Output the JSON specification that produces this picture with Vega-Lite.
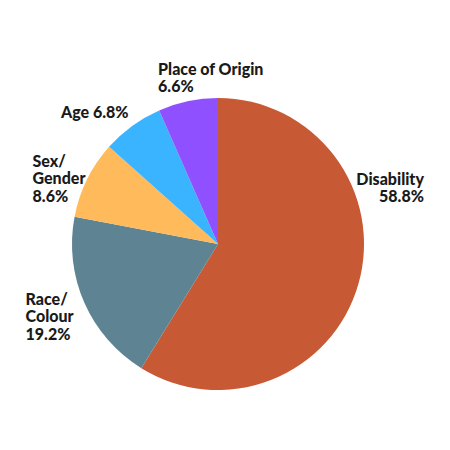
{
  "$schema": "https://vega.github.io/schema/vega-lite/v6.json",
  "width": 292,
  "height": 292,
  "autosize": "none",
  "padding": {"left": 72, "top": 98, "right": 86, "bottom": 60},
  "background": "white",
  "config": {"view": {"stroke": null}},
  "data": {
    "values": [
      {"category": "Disability", "value": 58.8, "label": "Disability\n58.8%"},
      {"category": "Race/Colour", "value": 19.2, "label": "Race/\nColour\n19.2%"},
      {"category": "Sex/Gender", "value": 8.6, "label": "Sex/\nGender\n8.6%"},
      {"category": "Age", "value": 6.8, "label": "Age 6.8%"},
      {"category": "Place of Origin", "value": 6.6, "label": "Place of Origin\n6.6%"}
    ]
  },
  "encoding": {
    "theta": {"field": "value", "type": "quantitative", "stack": true},
    "order": {"field": "value", "type": "quantitative", "sort": "descending"}
  },
  "layer": [
    {
      "mark": {"type": "arc", "outerRadius": 146},
      "encoding": {
        "color": {
          "field": "category",
          "type": "nominal",
          "scale": {
            "domain": ["Disability", "Race/Colour", "Sex/Gender", "Age", "Place of Origin"],
            "range": ["#C75A34", "#5E8493", "#FFBA5B", "#3AB4FF", "#8F51FF"]
          },
          "legend": null
        }
      }
    },
    {
      "mark": {"type": "text", "radius": 160, "align": "right", "baseline": "alphabetic", "dx": 52, "dy": -103, "font": "Lato", "fontWeight": 900, "fontSize": 16, "lineHeight": 17.5, "lineBreak": "\n", "color": "#1a1a1a"},
      "encoding": {"text": {"condition": {"test": "datum.category === 'Disability'", "field": "label"}, "value": ""}}
    },
    {
      "mark": {"type": "text", "radius": 160, "align": "left", "baseline": "alphabetic", "dx": -46, "dy": -3.5, "font": "Lato", "fontWeight": 900, "fontSize": 16, "lineHeight": 17.5, "lineBreak": "\n", "color": "#1a1a1a"},
      "encoding": {"text": {"condition": {"test": "datum.category === 'Race/Colour'", "field": "label"}, "value": ""}}
    },
    {
      "mark": {"type": "text", "radius": 160, "align": "left", "baseline": "alphabetic", "dx": -42, "dy": -6.5, "font": "Lato", "fontWeight": 900, "fontSize": 16, "lineHeight": 17.5, "lineBreak": "\n", "color": "#1a1a1a"},
      "encoding": {"text": {"condition": {"test": "datum.category === 'Sex/Gender'", "field": "label"}, "value": ""}}
    },
    {
      "mark": {"type": "text", "radius": 160, "align": "left", "baseline": "alphabetic", "dx": -63, "dy": 3.7, "font": "Lato", "fontWeight": 900, "fontSize": 16, "lineHeight": 17.5, "lineBreak": "\n", "color": "#1a1a1a"},
      "encoding": {"text": {"condition": {"test": "datum.category === 'Age'", "field": "label"}, "value": ""}}
    },
    {
      "mark": {"type": "text", "radius": 160, "align": "left", "baseline": "alphabetic", "dx": -27, "dy": -12, "font": "Lato", "fontWeight": 900, "fontSize": 16, "lineHeight": 17, "lineBreak": "\n", "color": "#1a1a1a"},
      "encoding": {"text": {"condition": {"test": "datum.category === 'Place of Origin'", "field": "label"}, "value": ""}}
    }
  ]
}
